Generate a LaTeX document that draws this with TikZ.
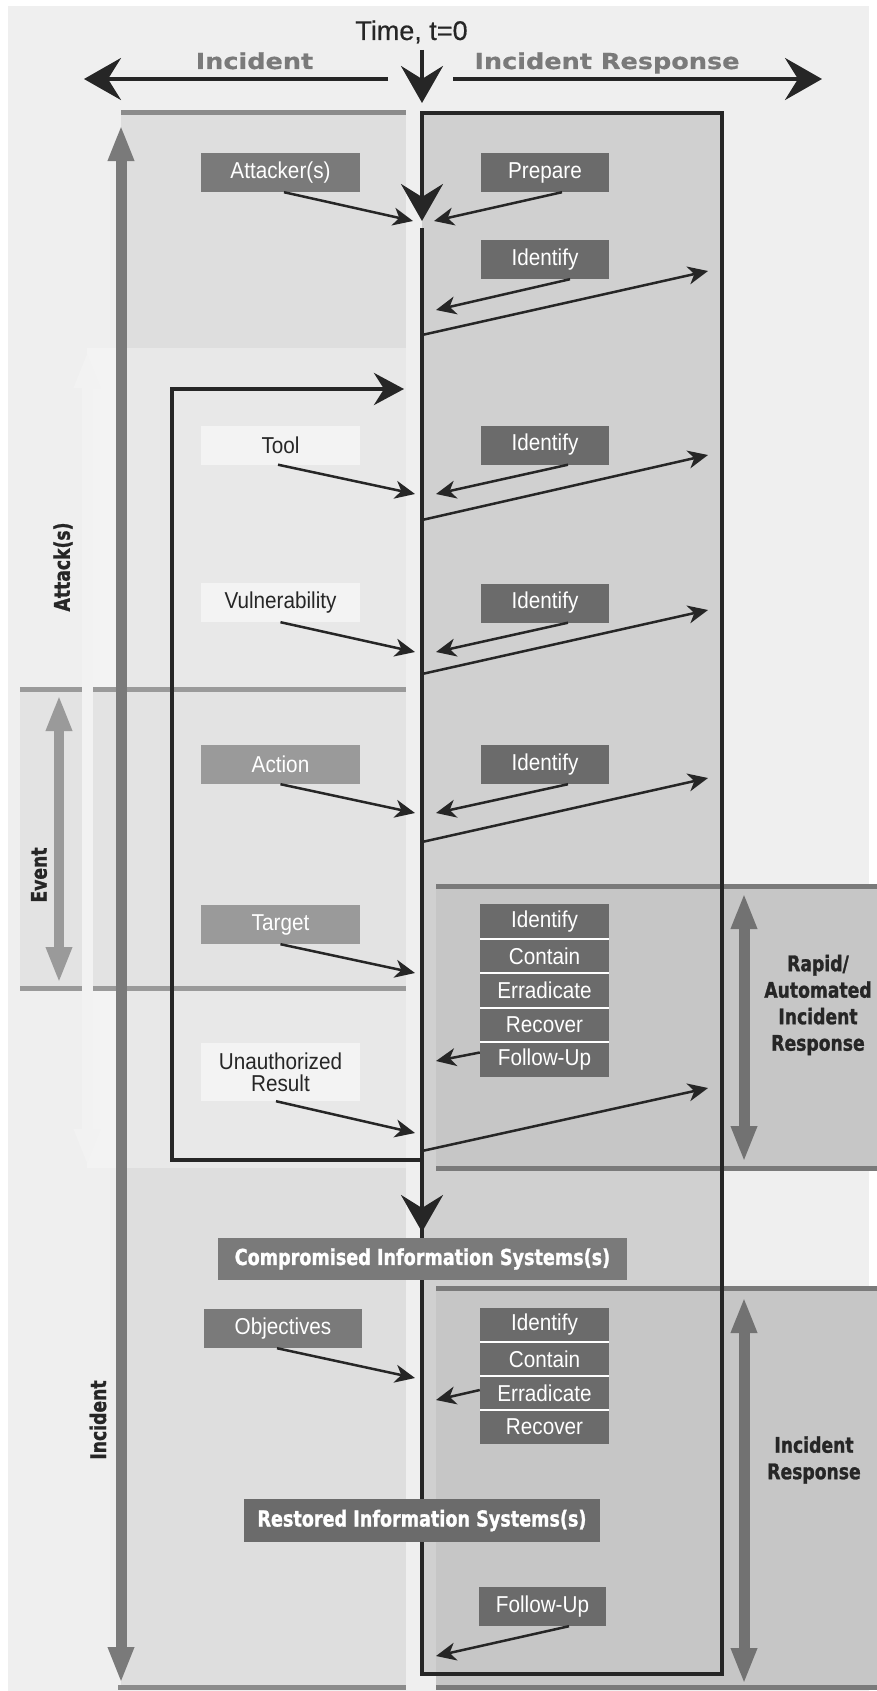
\documentclass[tikz,border=0pt]{standalone}
\usepackage{fontspec}
\usetikzlibrary{arrows.meta}
\newfontfamily\lblfont{Liberation Sans}[FakeStretch=0.9]
\newfontfamily\timefont{Liberation Sans}[FakeBold=0.4]
\newfontfamily\hdfont{DejaVu Sans}[FakeStretch=0.8,FakeBold=1.2]
\newfontfamily\extfont{DejaVu Sans}[FakeStretch=1.16,FakeBold=0.6]
\definecolor{cBg}{HTML}{EFEFEF}
\definecolor{cPanel}{HTML}{DEDEDE}
\definecolor{cMidPanel}{HTML}{E8E8E8}
\definecolor{cAttack}{HTML}{F3F3F3}
\definecolor{cFaint}{HTML}{F2F2F2}
\definecolor{cEvent}{HTML}{E3E3E3}
\definecolor{cBoxIn}{HTML}{D0D0D0}
\definecolor{cBand}{HTML}{C6C6C6}
\definecolor{cDark}{HTML}{6B6B6B}
\definecolor{cMid}{HTML}{7A7A7A}
\definecolor{cLight}{HTML}{9A9A9A}
\definecolor{cPale}{HTML}{F3F3F3}
\definecolor{cInk}{HTML}{262626}
\begin{document}
\begin{tikzpicture}[x=1pt,y=-1pt,
  box/.style={rectangle, inner sep=0pt, minimum width=159pt, minimum height=39pt,
    text=white, align=center, font=\lblfont\fontsize{23pt}{22pt}\selectfont},
  idbox/.style={box, fill=cDark, minimum width=128pt},
  pale/.style={box, fill=cPale, text=cInk},
  cell/.style={box, fill=cDark, minimum width=129pt, minimum height=34.5pt},
  cellsep/.style={draw=white, line width=2pt},
  sysbox/.style={rectangle, inner sep=0pt, text=white,
    font=\hdfont\bfseries\fontsize{22pt}{24pt}\selectfont},
  sidelbl/.style={text=cInk, align=center, inner sep=0pt,
    font=\hdfont\bfseries\fontsize{21.5pt}{26.5pt}\selectfont},
  sarrow/.style={draw=cInk, line width=2.5pt,
    -{Stealth[length=20pt,width=18pt,inset=6pt]}},
  barrow/.style={draw=cInk, line width=4pt,
    -{Stealth[length=37pt,width=42pt,inset=13pt]}},
  larrow/.style={draw=cInk, line width=4pt, line join=miter,
    -{Stealth[length=30pt,width=32pt,inset=10pt]}},
  garrow/.style={line width=11pt,
    {Triangle[length=36pt,width=24pt]}-{Triangle[length=36pt,width=24pt]}},
  bar/.style={line width=5pt}
]
\useasboundingbox (0,0) rectangle (877,1691);
\fill[white] (0,0) rectangle (877,1691);
\fill[cBg] (8,6) rectangle (869,1691);

% left-hand panels
\fill[cPanel] (121,113) rectangle (406,348);
\fill[cAttack] (87,348) rectangle (121,1168);
\fill[cMidPanel] (121,348) rectangle (406,1168);
\fill[cEvent] (20,689) rectangle (406,988);
\fill[cPanel] (121,1168) rectangle (406,1687);

% right-hand panels
\fill[cBoxIn] (422,113) rectangle (722,1674);
\fill[cBand] (436,886) rectangle (877,1168);
\fill[cBand] (436,1288) rectangle (877,1687);

% separator bars
\draw[bar, color=cLight!90!black] (121,113) -- (406,113);
\draw[bar, color=cLight] (20,689) -- (82,689) (93,689) -- (406,689);
\draw[bar, color=cLight] (20,988) -- (82,988) (93,988) -- (406,988);
\draw[bar, color=cLight!90!black] (118,1687) -- (406,1687);
\draw[bar, color=cMid] (436,886) -- (877,886) (436,1168) -- (877,1168);
\draw[bar, color=cMid] (436,1288) -- (877,1288) (436,1687) -- (877,1687);

% span arrows
\coordinate (atkT) at (87,352);  \coordinate (atkB) at (87,1165);
\coordinate (evT) at (59,695);   \coordinate (evB) at (59,983);
\coordinate (incT) at (121,125); \coordinate (incB) at (121,1683);
\coordinate (rapT) at (744,893); \coordinate (rapB) at (744,1162);
\coordinate (irT) at (744,1297); \coordinate (irB) at (744,1684);
\draw[garrow, color=cFaint] (atkT) -- (atkB);
\draw[garrow, color=cLight, line width=10pt] (evT) -- (evB);
\draw[garrow, color=cMid] (incT) -- (incB);
\draw[garrow, color=cDark!95!white] (rapT) -- (rapB);
\draw[garrow, color=cDark!95!white] (irT) -- (irB);

% side labels
\node[sidelbl, rotate=90] (lblAttack) at (63,567) {Attack(s)};
\node[sidelbl, rotate=90] (lblEvent) at (39,875) {Event};
\node[sidelbl, rotate=90] (lblIncident) at (98,1420) {Incident};
\node[sidelbl] (lblRapid) at (818,1005) {Rapid/\\Automated\\Incident\\Response};
\node[sidelbl] (lblIR) at (814,1460) {Incident\\Response};

% header
\node[anchor=base, inner sep=0pt, text=cInk, font=\timefont\fontsize{27pt}{30pt}\selectfont] (time) at (411.5,40) {Time, t=0};
\node[anchor=base, inner sep=0pt, text=cMid, font=\extfont\bfseries\fontsize{22pt}{24pt}\selectfont] (hInc) at (254.5,69) {Incident};
\node[anchor=base, inner sep=0pt, text=cMid, font=\extfont\bfseries\fontsize{22pt}{24pt}\selectfont] (hIR) at (607,69) {Incident Response};
\coordinate (tl0) at (388,79);  \coordinate (tl1) at (84,79);
\coordinate (tr0) at (453,79);  \coordinate (tr1) at (822,79);
\coordinate (td0) at (422,50);  \coordinate (td1) at (422,103);
\draw[barrow] (tl0) -- (tl1);
\draw[barrow] (tr0) -- (tr1);
\draw[barrow] (td0) -- (td1);

% response timeline box with its entry arrow
\draw[barrow, line join=miter] (422,228) -- (422,1674) -- (722,1674) -- (722,113) -- (422,113) -- (422,221);
\coordinate (cdA) at (422,1180); \coordinate (cdB) at (422,1232);
\draw[barrow] (cdA) -- (cdB);

% attack loop
\coordinate (lp0) at (422,1160); \coordinate (lp1) at (172,1160);
\coordinate (lp2) at (172,389);  \coordinate (lp3) at (404,389);
\draw[larrow] (lp0) -- (lp1) -- (lp2) -- (lp3);

% boxes
\node[box, fill=cMid] (att) at (280.5,172.5) {Attacker(s)};
\node[idbox] (prep) at (545,172.5) {Prepare};
\node[idbox] (id1) at (545,259.5) {Identify};
\node[pale] (tool) at (280.5,445) {Tool};
\node[idbox] (id2) at (545,445) {Identify};
\node[pale] (vuln) at (280.5,602.5) {Vulnerability};
\node[idbox] (id3) at (545,603) {Identify};
\node[box, fill=cLight] (action) at (280.5,764.5) {Action};
\node[idbox] (id4) at (545,764.5) {Identify};
\node[box, fill=cLight] (target) at (280.5,924.5) {Target};
\node[cell] (sa1) at (544.5,921.5) {Identify};
\node[cell] (sa2) at (544.5,956) {Contain};
\node[cell] (sa3) at (544.5,990.5) {Erradicate};
\node[cell] (sa4) at (544.5,1025) {Recover};
\node[cell] (sa5) at (544.5,1059.5) {Follow-Up};
\draw[cellsep] (sa1.south west) -- (sa1.south east)
               (sa2.south west) -- (sa2.south east)
               (sa3.south west) -- (sa3.south east)
               (sa4.south west) -- (sa4.south east);
\node[pale, minimum height=58pt] (ur) at (280.5,1072) {Unauthorized\\Result};
\node[sysbox, fill=cMid, minimum width=409pt, minimum height=42pt] (comp) at (422.5,1259) {Compromised Information Systems(s)};
\node[box, fill=cMid, minimum width=158pt] (obj) at (283,1328.5) {Objectives};
\node[cell, minimum height=34pt] (sb1) at (544.5,1325) {Identify};
\node[cell, minimum height=34pt] (sb2) at (544.5,1359) {Contain};
\node[cell, minimum height=34pt] (sb3) at (544.5,1393) {Erradicate};
\node[cell, minimum height=34pt] (sb4) at (544.5,1427) {Recover};
\draw[cellsep] (sb1.south west) -- (sb1.south east)
               (sb2.south west) -- (sb2.south east)
               (sb3.south west) -- (sb3.south east);
\node[sysbox, fill=cDark, minimum width=356pt, minimum height=43pt] (rest) at (422,1520.5) {Restored Information Systems(s)};
\node[idbox, minimum width=127pt] (fu) at (542.5,1606.5) {Follow-Up};

% arrow end points on the timeline
\coordinate (a0) at (413,221);  \coordinate (p0) at (434,221);
\coordinate (i1e) at (436,310); \coordinate (l1s) at (422,335); \coordinate (l1e) at (708,271);
\coordinate (t0) at (415,494);  \coordinate (i2e) at (436,494); \coordinate (l2s) at (422,520); \coordinate (l2e) at (708,455);
\coordinate (v0) at (415,652);  \coordinate (i3e) at (436,652); \coordinate (l3s) at (422,674); \coordinate (l3e) at (708,610);
\coordinate (ac0) at (415,813); \coordinate (i4e) at (436,813); \coordinate (l4s) at (422,842); \coordinate (l4e) at (708,778);
\coordinate (tg0) at (415,973); \coordinate (s1e) at (436,1061);
\coordinate (ur0) at (415,1133); \coordinate (l5s) at (422,1151); \coordinate (l5e) at (708,1088);
\coordinate (ob0) at (415,1378); \coordinate (s2e) at (436,1400);
\coordinate (fu0) at (436,1656);

% connectors
\draw[sarrow] ([xshift=3.5pt]att.south) -- (a0);
\draw[sarrow] ([xshift=17pt]prep.south) -- (p0);
\draw[sarrow] ([xshift=25pt]id1.south) -- (i1e);
\draw[sarrow] (l1s) -- (l1e);
\draw[sarrow] ([xshift=-2.5pt]tool.south) -- (t0);
\draw[sarrow] ([xshift=23pt]id2.south) -- (i2e);
\draw[sarrow] (l2s) -- (l2e);
\draw[sarrow] (vuln.south) -- (v0);
\draw[sarrow] ([xshift=23pt]id3.south) -- (i3e);
\draw[sarrow] (l3s) -- (l3e);
\draw[sarrow] (action.south) -- (ac0);
\draw[sarrow] ([xshift=23pt]id4.south) -- (i4e);
\draw[sarrow] (l4s) -- (l4e);
\draw[sarrow] (target.south) -- (tg0);
\draw[sarrow] ([yshift=7pt]sa5.west) -- (s1e);
\draw[sarrow] ([xshift=-4.5pt]ur.south) -- (ur0);
\draw[sarrow] (l5s) -- (l5e);
\draw[sarrow] ([xshift=-6pt]obj.south) -- (ob0);
\draw[sarrow] ([yshift=3pt]sb3.west) -- (s2e);
\draw[sarrow] ([xshift=26.5pt]fu.south) -- (fu0);
\end{tikzpicture}
\end{document}
